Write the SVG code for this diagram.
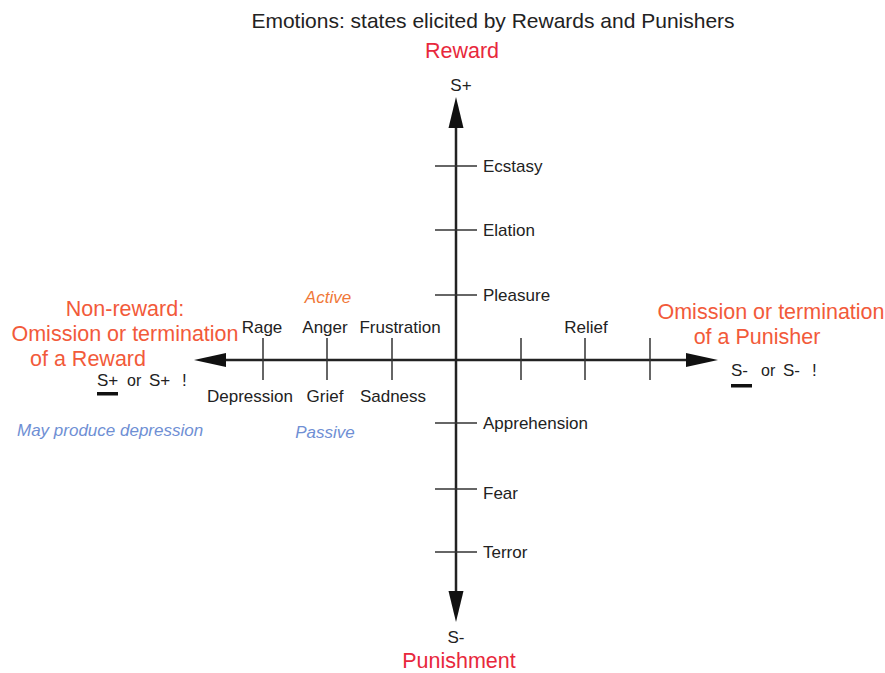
<svg xmlns="http://www.w3.org/2000/svg" width="885" height="673" viewBox="0 0 885 673">
<defs>
<style>
text{font-family:"Liberation Sans",Arial,sans-serif;fill:#222}
.lbl{font-size:17px}
.big{font-size:21.5px}
.red{fill:#e8283c}
.org{fill:#f25a3a}
.ital{font-style:italic;font-size:17px}
.act{fill:#f07838}
.pas{fill:#6f8fd4}
.axis{stroke:#222;stroke-width:2.5;fill:none}
.tick{stroke:#333;stroke-width:1.5;fill:none}
.head{fill:#111}
</style>
</defs>
<rect width="885" height="673" fill="#fff"/>
<text x="493" y="28" font-size="21" text-anchor="middle">Emotions: states elicited by Rewards and Punishers</text>
<text class="big red" x="462" y="58" text-anchor="middle">Reward</text>
<text class="lbl" x="461" y="91" text-anchor="middle">S+</text>
<text class="lbl" x="456" y="643" text-anchor="middle">S-</text>
<text class="big red" x="459" y="668" text-anchor="middle">Punishment</text>
<g id="connectors">
<line class="axis" x1="456" y1="125" x2="456" y2="594"/>
<line class="axis" x1="223" y1="360" x2="690" y2="360"/>
<polygon class="head" points="456,97 448.5,128 463.5,128"/>
<polygon class="head" points="456,622 448.5,591 463.5,591"/>
<polygon class="head" points="194,360 226,353 226,367"/>
<polygon class="head" points="718,360 686,353 686,367"/>
<g class="tick">
<line x1="435" y1="166" x2="477" y2="166"/>
<line x1="435" y1="230" x2="477" y2="230"/>
<line x1="435" y1="295" x2="477" y2="295"/>
<line x1="435" y1="423" x2="477" y2="423"/>
<line x1="435" y1="489" x2="477" y2="489"/>
<line x1="435" y1="552" x2="477" y2="552"/>
<line x1="263" y1="338" x2="263" y2="380"/>
<line x1="327" y1="338" x2="327" y2="380"/>
<line x1="392" y1="338" x2="392" y2="380"/>
<line x1="521" y1="338" x2="521" y2="380"/>
<line x1="585" y1="338" x2="585" y2="380"/>
<line x1="650" y1="338" x2="650" y2="380"/>
</g>
</g>
<g id="vertical-labels">
<text class="lbl" x="483" y="172">Ecstasy</text>
<text class="lbl" x="483" y="236">Elation</text>
<text class="lbl" x="483" y="301">Pleasure</text>
<text class="lbl" x="483" y="429">Apprehension</text>
<text class="lbl" x="483" y="499">Fear</text>
<text class="lbl" x="483" y="558">Terror</text>
</g>
<g id="horizontal-labels">
<text class="lbl" x="262" y="333" text-anchor="middle">Rage</text>
<text class="lbl" x="325" y="333" text-anchor="middle">Anger</text>
<text class="lbl" x="400" y="333" text-anchor="middle">Frustration</text>
<text class="lbl" x="586" y="333" text-anchor="middle">Relief</text>
<text class="lbl" x="250" y="402" text-anchor="middle">Depression</text>
<text class="lbl" x="325" y="402" text-anchor="middle">Grief</text>
<text class="lbl" x="393" y="402" text-anchor="middle">Sadness</text>
<text class="ital act" x="328" y="303" text-anchor="middle">Active</text>
<text class="ital pas" x="325" y="438" text-anchor="middle">Passive</text>
</g>
<g id="non-reward">
<text class="big org" x="125" y="316" text-anchor="middle">Non-reward:</text>
<text class="big org" x="125" y="341" text-anchor="middle">Omission or termination</text>
<text class="big org" x="88" y="366" text-anchor="middle">of a Reward</text>
<text class="lbl" y="386"><tspan x="97">S+</tspan><tspan x="127" font-size="16">or</tspan><tspan x="149">S+</tspan><tspan x="182">!</tspan></text>
<rect x="97" y="392" width="21" height="3.5" fill="#111"/>
<text class="ital pas" x="17" y="436">May produce depression</text>
</g>
<g id="punisher-omission">
<text class="big org" x="771" y="319" text-anchor="middle">Omission or termination</text>
<text class="big org" x="757" y="344" text-anchor="middle">of a Punisher</text>
<text class="lbl" y="376"><tspan x="731">S-</tspan><tspan x="761" font-size="16">or</tspan><tspan x="783">S-</tspan><tspan x="812">!</tspan></text>
<rect x="731" y="384" width="21" height="3.5" fill="#111"/>
</g>
</svg>
